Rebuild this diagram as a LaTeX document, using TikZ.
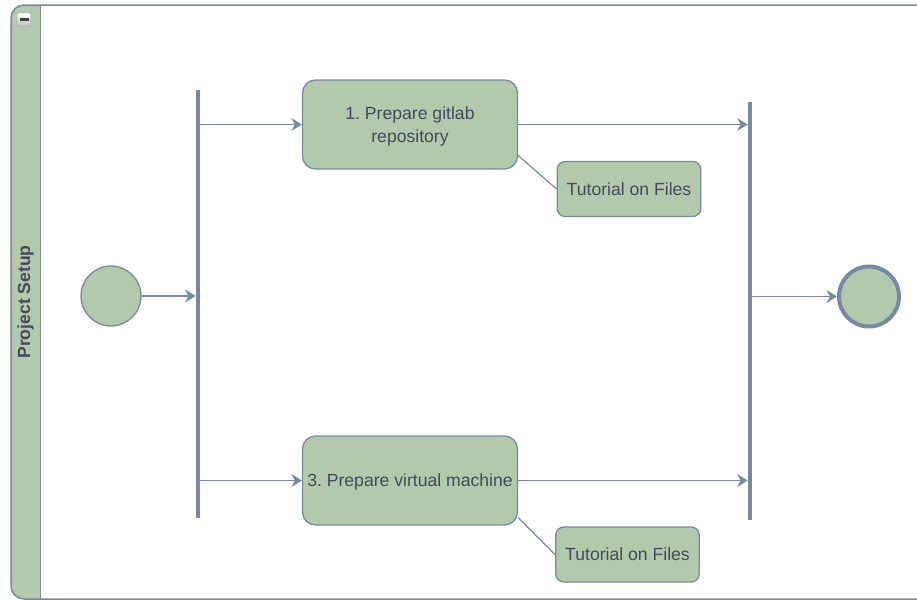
\documentclass[tikz,border=0pt]{standalone}
\usepackage{fontspec}
\setmainfont{Liberation Sans}
\frenchspacing
\usetikzlibrary{arrows.meta,calc,shadings}
\definecolor{sage}{HTML}{B2C9AB}
\definecolor{slate}{HTML}{788AA3}
\definecolor{ink}{HTML}{46495D}
\begin{document}
\begin{tikzpicture}[x=1pt,y=-1pt,
  font=\fontsize{17.6}{22.5}\selectfont, text=ink,
  task/.style={draw=slate, fill=sage, line width=1.3pt, rounded corners=13pt,
    minimum width=215pt, minimum height=89pt, align=center, inner sep=0pt},
  note/.style={draw=slate, fill=sage, line width=1.3pt, rounded corners=8pt,
    minimum width=143.5pt, minimum height=55pt, inner sep=0pt},
  bar/.style={fill=slate, draw=none, minimum width=4.3pt, inner sep=0pt},
  startstate/.style={circle, draw=slate, fill=sage, line width=1.3pt,
    minimum size=60pt, inner sep=0pt},
  endstate/.style={circle, draw=slate, fill=sage, line width=4pt,
    minimum size=60pt, inner sep=0pt},
  flow/.style={draw=slate, line width=1.2pt,
    -{Stealth[length=10.5pt,width=13pt,inset=3.5pt]}},
  link/.style={draw=slate, line width=1.2pt},
  toggle/.style={draw=gray!70, rounded corners=1pt, top color=white,
    bottom color=gray!50, minimum size=13pt, inner sep=0pt},
]
\useasboundingbox (0,0) rectangle (917,600);

% swimlane with its header strip
\begin{scope}
  \clip (0,0) rectangle (917,600);
  \begin{scope}
    \clip[rounded corners=13pt] (11,5) rectangle (960,599);
    \fill[white] (11,5) rectangle (960,599);
    \fill[sage] (11,5) rectangle (40.5,599);
  \end{scope}
  \draw[slate, line width=1.5pt, rounded corners=13pt] (11,5) rectangle (960,599);
  \draw[slate, line width=1.5pt] (40.5,5) -- (40.5,599);
\end{scope}

% collapse toggle and lane title
\node[toggle] (collapse) at (24,19.5) {};
\draw[line width=2.4pt, black!75] ($(collapse.center)+(-4.5,0)$) -- ($(collapse.center)+(4.5,0)$);
\node[rotate=90, font=\bfseries\fontsize{17.6}{21.5}\selectfont] (lanetitle) at (25.5,302) {Project Setup};

% states, bars and actions
\node[startstate] (start) at (111,296) {};
\node[bar, minimum height=428pt] (fork) at (198,304) {};
\node[task] (t1) at (410,124.5) {\rule{0pt}{17pt}1. Prepare gitlab\\repository};
\node[task] (t3) at (410,480.5) {\rule{0pt}{15pt}3. Prepare virtual machine};
\node[note] (n1) at (629,189) {Tutorial on Files};
\node[note] (n3) at (627.5,554.5) {Tutorial on Files};
\node[bar, minimum height=418pt] (join) at (750,311) {};
\node[endstate] (end) at (869,296.5) {};

% control flow
\draw[flow] (start) -- (start -| fork.west);
\draw[flow] (t1.west -| fork.east) -- (t1.west);
\draw[flow] (t3.west -| fork.east) -- (t3.west);
\draw[flow] (t1.east) -- (t1.east -| join.west);
\draw[flow] (t3.east) -- (t3.east -| join.west);
\draw[flow] (end.west -| join.west) -- (end.west);

% note attachments
\draw[link] (t1.-16) -- (n1.west);
\draw[link] (t3.-19) -- (n3.west);
\end{tikzpicture}
\end{document}
